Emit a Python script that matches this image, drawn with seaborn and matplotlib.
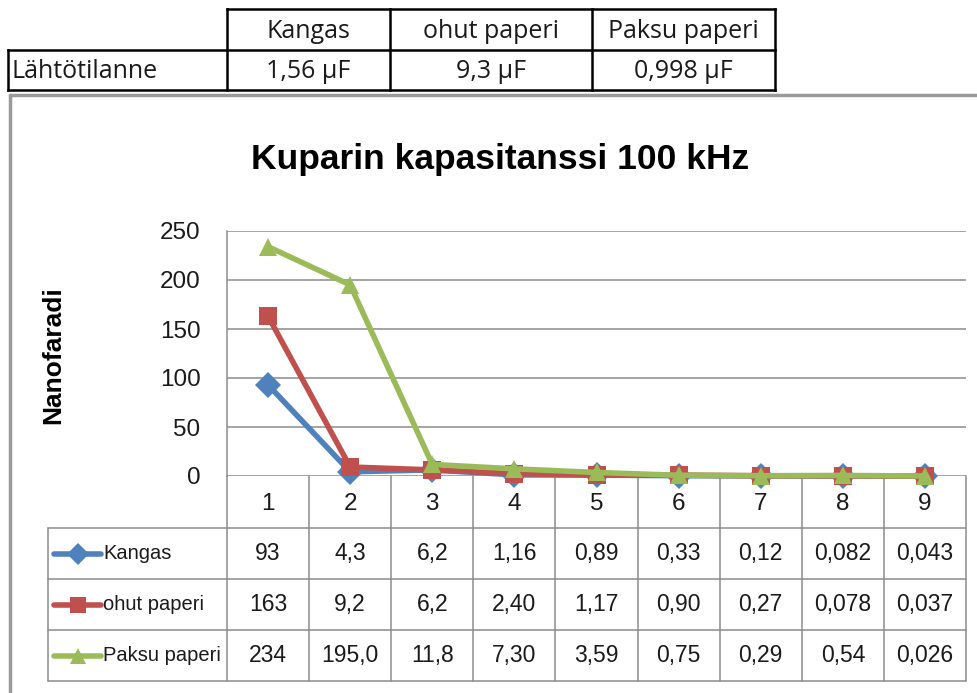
import numpy as np
import pandas as pd
import matplotlib
matplotlib.use('Agg')
import matplotlib.pyplot as plt
import seaborn as sns

# --- data (values as printed in the chart's data table) ---
measurements = ['1', '2', '3', '4', '5', '6', '7', '8', '9']
series_names = ['Kangas', 'ohut paperi', 'Paksu paperi']
kangas = ['93', '4,3', '6,2', '1,16', '0,89', '0,33', '0,12', '0,082', '0,043']
ohut_paperi = ['163', '9,2', '6,2', '2,40', '1,17', '0,90', '0,27', '0,078', '0,037']
paksu_paperi = ['234', '195,0', '11,8', '7,30', '3,59', '0,75', '0,29', '0,54', '0,026']

# starting values table above the chart
start_label = 'Lähtötilanne'
start_values = ['1,56 µF', '9,3 µF', '0,998 µF']

title = 'Kuparin kapasitanssi 100 kHz'
y_label = 'Nanofaradi'
y_ticks = [0, 50, 100, 150, 200, 250]

colors = ['#4F81BD', '#C0504D', '#9BBB59']
markers = ['D', 's', '^']

sns.set_theme(style='white')
plt.rcParams['font.family'] = ['Liberation Sans', 'DejaVu Sans']

rows = [kangas, ohut_paperi, paksu_paperi]
df = pd.DataFrame({
    'pos': np.tile(np.arange(len(measurements)), len(series_names)),
    'series': np.repeat(series_names, len(measurements)),
    'value': [float(v.replace(',', '.')) for r in rows for v in r],
})

W, H = 978, 693
fig = plt.figure(figsize=(W / 100, H / 100), dpi=100)

# layout in pixels
pl, pr, pt, pb = 227, 966, 231, 476
tbl_left = 48
row_edges = [476, 528, 579, 630, 681]
slot = (pr - pl) / len(measurements)
txt = '#1a1a1a'

# overlay axes in pixel coordinates for tables and frame
lay = fig.add_axes([0, 0, 1, 1])
lay.set_xlim(0, W)
lay.set_ylim(H, 0)
lay.axis('off')

# main plot
ax = fig.add_axes([pl / W, (H - pb) / H, (pr - pl) / W, (pb - pt) / H])
sns.lineplot(
    data=df, x='pos', y='value', hue='series', style='series',
    palette=dict(zip(series_names, colors)),
    markers=dict(zip(series_names, markers)),
    dashes=False, linewidth=4, markersize=13, markeredgewidth=0,
    legend=False, ax=ax, clip_on=False, zorder=3
)
ax.set_xlim(-0.5, len(measurements) - 0.5)
ax.set_ylim(0, 250)
ax.set_yticks(y_ticks)
ax.set_yticklabels([str(t) for t in y_ticks], fontsize=17.5, color=txt)
ax.set_xticks([])
ax.set_xlabel('')
ax.set_ylabel('')
ax.tick_params(axis='y', length=0, pad=19)
ax.grid(axis='y', color='#8c8c8c', linewidth=1.1)
for s in ['top', 'right', 'bottom']:
    ax.spines[s].set_visible(False)
ax.spines['left'].set_color('#8c8c8c')
ax.spines['left'].set_linewidth(1.1)
ax.set_facecolor('none')

fig.text(500 / W, 1 - 159 / H, title, ha='center', va='center',
         fontsize=25.5, fontweight='bold', color='black')
fig.text(53 / W, 1 - 355 / H, y_label, ha='center', va='center',
         rotation=90, fontsize=19, fontweight='bold', color='black')

# data table below the plot
gcol = '#8c8c8c'
lay.plot([pl, pl], [row_edges[0], row_edges[-1]], color=gcol, lw=1.1)
lay.plot([tbl_left, tbl_left], [row_edges[1], row_edges[-1]], color=gcol, lw=1.1)
for i in range(1, len(measurements) + 1):
    x = pl + i * slot
    lay.plot([x, x], [row_edges[0], row_edges[-1]], color=gcol, lw=1.1)
for y in row_edges[1:]:
    lay.plot([tbl_left, pr], [y, y], color=gcol, lw=1.1)

for i, m in enumerate(measurements):
    cx = pl + (i + 0.5) * slot
    lay.text(cx, (row_edges[0] + row_edges[1]) / 2 + 2, m, ha='center',
             va='center', fontsize=17.5, color=txt)
    for k, r in enumerate(rows):
        cy = (row_edges[k + 1] + row_edges[k + 2]) / 2
        lay.text(cx, cy, r[i], ha='center', va='center', fontsize=16.5,
                 color=txt)

for k, name in enumerate(series_names):
    cy = (row_edges[k + 1] + row_edges[k + 2]) / 2
    lay.plot([54, 101], [cy, cy], color=colors[k], lw=4)
    lay.plot([77.5], [cy], marker=markers[k], color=colors[k], ms=11.5, mew=0)
    lay.text(103, cy, name, ha='left', va='center', fontsize=14.5, color=txt)

# chart frame (gray top and left edge)
lay.plot([10, W], [95, 95], color='#9a9a9a', lw=2.5)
lay.plot([10, 10], [95, H], color='#9a9a9a', lw=2.5)

# starting value table at the top
cols = [8, 227, 390, 592, 775]
ty = [9, 50, 90]
bk = dict(color='black', lw=1.8, solid_capstyle='projecting')
lay.plot([cols[1], cols[-1]], [ty[0], ty[0]], **bk)
lay.plot([cols[0], cols[-1]], [ty[1], ty[1]], **bk)
lay.plot([cols[0], cols[-1]], [ty[2], ty[2]], **bk)
lay.plot([cols[0], cols[0]], [ty[1], ty[2]], **bk)
for x in cols[1:]:
    lay.plot([x, x], [ty[0], ty[2]], **bk)
tfont = ['Open Sans', 'DejaVu Sans']
for i, name in enumerate(series_names):
    cx = (cols[i + 1] + cols[i + 2]) / 2
    lay.text(cx, (ty[0] + ty[1]) / 2 + 2, name, ha='center', va='center',
             fontsize=18, family=tfont, color=txt)
    lay.text(cx, (ty[1] + ty[2]) / 2 + 2, start_values[i], ha='center',
             va='center', fontsize=18, family=tfont, color=txt)
lay.text(11, (ty[1] + ty[2]) / 2 + 2, start_label, ha='left', va='center',
         fontsize=18, family=tfont, color=txt)

fig.savefig('out.png', dpi=100)
